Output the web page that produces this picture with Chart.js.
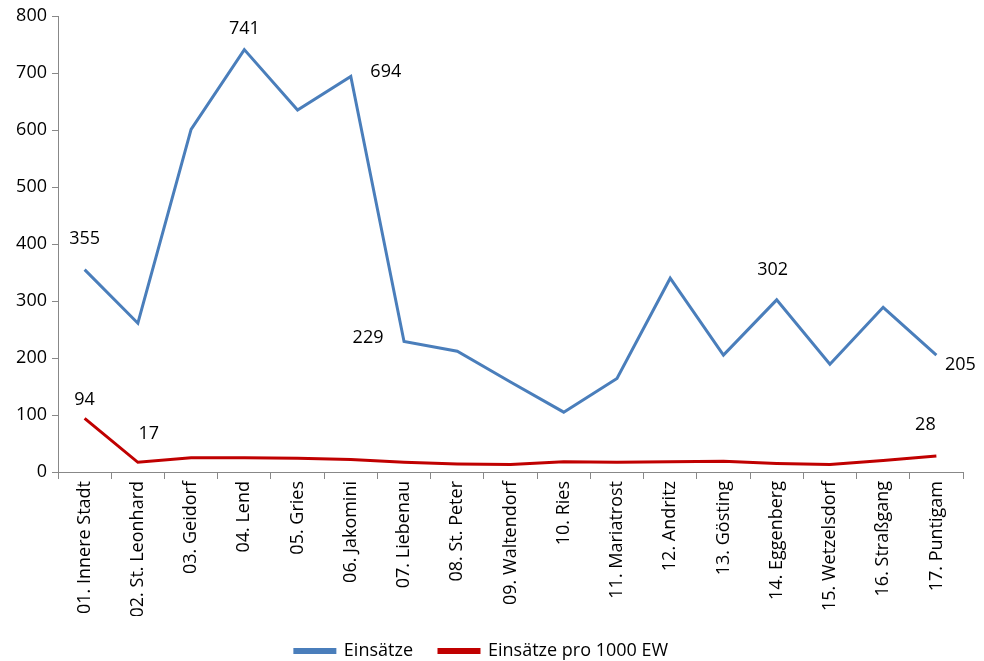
<!DOCTYPE html>
<html lang="de">
<head>
  <meta charset="UTF-8">
  <title>Einsätze nach Bezirk</title>
  <script src="https://cdn.jsdelivr.net/npm/chart.js"></script>
  <style>
    html, body { margin: 0; padding: 0; background: #fff; }
    #wrap { width: 984px; height: 661px; }
  </style>
</head>
<body>
  <div id="wrap"><canvas id="chart" width="984" height="661"></canvas></div>
  <script>
    // Bezirke
    const bezirke = [
      '01. Innere Stadt', '02. St. Leonhard', '03. Geidorf', '04. Lend', '05. Gries',
      '06. Jakomini', '07. Liebenau', '08. St. Peter', '09. Waltendorf', '10. Ries',
      '11. Mariatrost', '12. Andritz', '13. Gösting', '14. Eggenberg', '15. Wetzelsdorf',
      '16. Straßgang', '17. Puntigam'
    ];
    // Einsätze gesamt
    const einsaetze = [355, 261, 601, 741, 635, 694, 229, 212, 158, 105, 164, 340, 205, 302, 189, 289, 205];
    // Einsätze pro 1000 Einwohner
    const proTausend = [94, 17, 25, 25, 24, 22, 17, 14, 13, 18, 17, 18, 19, 15, 13, 20, 28];
    const yTicks = [0, 100, 200, 300, 400, 500, 600, 700, 800];

    // welche Werte beschriftet werden, mit Versatz der Beschriftung
    const labelsBlau = { 0: [0, -31], 3: [0, -21], 5: [35, -5], 6: [-36, -4], 13: [-4, -30], 16: [24, 10] };
    const labelsRot  = { 0: [0, -19], 1: [11, -28], 16: [-11, -31] };

    const FONT = "'Open Sans', sans-serif";
    const FS = 18;

    const wertLabels = {
      id: 'wertLabels',
      afterDatasetsDraw(chart) {
        const ctx = chart.ctx;
        ctx.save();
        ctx.font = FS + 'px ' + FONT;
        ctx.fillStyle = '#000';
        ctx.textAlign = 'center';
        ctx.textBaseline = 'middle';
        [labelsBlau, labelsRot].forEach((sel, di) => {
          const meta = chart.getDatasetMeta(di);
          const data = chart.data.datasets[di].data;
          Object.keys(sel).forEach(i => {
            const pt = meta.data[i];
            ctx.fillText(String(data[i]), pt.x + sel[i][0], pt.y + sel[i][1]);
          });
        });
        ctx.restore();
      }
    };

    new Chart(document.getElementById('chart'), {
      type: 'line',
      data: {
        labels: bezirke,
        datasets: [
          { label: 'Einsätze', data: einsaetze, borderColor: '#4a7ebb', backgroundColor: '#4a7ebb',
            borderWidth: 3, pointRadius: 0, tension: 0 },
          { label: 'Einsätze pro 1000 EW', data: proTausend, borderColor: '#c00000', backgroundColor: '#c00000',
            borderWidth: 3, pointRadius: 0, tension: 0 }
        ]
      },
      options: {
        responsive: false,
        animation: false,
        layout: { padding: { left: 0, right: 21, top: 16, bottom: -9 } },
        plugins: {
          tooltip: { enabled: false },
          legend: {
            position: 'bottom',
            labels: {
              font: { family: FONT, size: FS },
              color: '#000',
              boxWidth: 40,
              boxHeight: 3,
              padding: 26
            }
          }
        },
        scales: {
          x: {
            offset: true,
            grid: { drawOnChartArea: false, offset: true, tickLength: 7, color: '#888' },
            border: { color: '#888' },
            ticks: {
              font: { family: FONT, size: FS }, color: '#000',
              minRotation: 90, maxRotation: 90, autoSkip: false, padding: 2
            },
            afterFit(s) { s.height = 144; }
          },
          y: {
            min: 0, max: 800,
            afterBuildTicks(s) { s.ticks = yTicks.map(v => ({ value: v })); },
            grid: { drawOnChartArea: false, tickLength: 6, color: '#888' },
            border: { color: '#888' },
            ticks: { font: { family: FONT, size: FS }, color: '#000', padding: 5 },
            afterFit(s) { s.width = 58; }
          }
        }
      },
      plugins: [wertLabels]
    });
  </script>
</body>
</html>
